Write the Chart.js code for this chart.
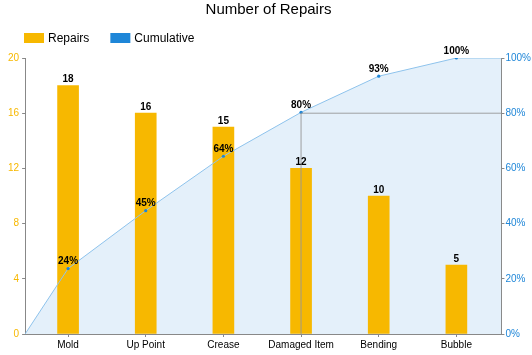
<!DOCTYPE html>
<html>
<head>
<meta charset="utf-8">
<script src="https://cdn.jsdelivr.net/npm/chart.js@4.4.1/dist/chart.umd.min.js"></script>
<style>
html,body{margin:0;padding:0;background:#fff;}
#wrap{width:532px;height:355px;}
</style>
</head>
<body>
<div id="wrap"><canvas id="c" width="532" height="355"></canvas></div>
<script>
const categories = ['Mold', 'Up Point', 'Crease', 'Damaged Item', 'Bending', 'Bubble'];
const repairs = [18, 16, 15, 12, 10, 5];
const cumulativePct = [23.7, 44.7, 64.4, 80.3, 93.4, 100];
const leftTicks = [0, 4, 8, 12, 16, 20];
const rightTicks = [0, 20, 40, 60, 80, 100];
const legendItems = ['Repairs', 'Cumulative'];
const thresholdPct = 80;
const thresholdIndex = 3;

const BAR_COLOR = '#F7B800';
const CUM_COLOR = '#1E86D8';
const X_MIN = -0.553, X_MAX = 5.58;

const cumPoints = [{x: X_MIN, y: 0}]
  .concat(cumulativePct.map((v, i) => ({x: i, y: v})))
  .concat([{x: X_MAX, y: cumulativePct[cumulativePct.length - 1]}]);
const barPoints = repairs.map((v, i) => ({x: i, y: v}));
const thresholdPoints = [
  {x: thresholdIndex, y: 0},
  {x: thresholdIndex, y: thresholdPct},
  {x: X_MAX, y: thresholdPct}
];

const FONT = '"Liberation Sans", Arial, sans-serif';

const labelPlugin = {
  id: 'valueLabels',
  afterDatasetsDraw(chart) {
    const ctx = chart.ctx;
    ctx.save();
    ctx.fillStyle = '#000';
    ctx.font = 'bold 10px ' + FONT;
    ctx.textAlign = 'center';
    ctx.textBaseline = 'bottom';
    const barMeta = chart.getDatasetMeta(1);
    barMeta.data.forEach((el, i) => {
      ctx.fillText(String(repairs[i]), el.x, el.y - 1);
    });
    const lineMeta = chart.getDatasetMeta(0);
    lineMeta.data.forEach((el, i) => {
      if (i === 0 || i === lineMeta.data.length - 1) return;
      ctx.fillText(Math.round(cumulativePct[i - 1]) + '%', el.x, el.y - 2);
    });
    ctx.restore();
  }
};

const legendPlugin = {
  id: 'customLegend',
  afterDraw(chart) {
    const ctx = chart.ctx;
    ctx.save();
    ctx.font = '12px ' + FONT;
    ctx.textBaseline = 'middle';
    ctx.textAlign = 'left';
    const colors = [BAR_COLOR, CUM_COLOR];
    let x = 24;
    const y = 33;
    legendItems.forEach((t, i) => {
      ctx.fillStyle = colors[i];
      ctx.fillRect(x, y, 20, 10);
      ctx.fillStyle = '#000';
      ctx.fillText(t, x + 24, y + 5.5);
      x += 24 + ctx.measureText(t).width + 21;
    });
    ctx.restore();
  }
};

Chart.defaults.font.family = FONT;

new Chart(document.getElementById('c'), {
  data: {
    datasets: [
      {
        type: 'line',
        label: 'Cumulative',
        data: cumPoints,
        xAxisID: 'x',
        yAxisID: 'y1',
        borderColor: '#8EC3EC',
        backgroundColor: CUM_COLOR,
        borderWidth: 1,
        fill: {target: 'origin', above: 'rgba(214,232,248,0.65)'},
        pointRadius: cumPoints.map((p, i) => (i === 0 || i === cumPoints.length - 1) ? 0 : 1.6),
        pointBackgroundColor: CUM_COLOR,
        pointBorderWidth: 0,
        tension: 0,
        order: 1
      },
      {
        type: 'bar',
        label: 'Repairs',
        data: barPoints,
        xAxisID: 'x',
        yAxisID: 'y',
        backgroundColor: BAR_COLOR,
        borderWidth: 0,
        barThickness: 21,
        order: 2
      },
      {
        type: 'line',
        label: 'threshold',
        data: thresholdPoints,
        xAxisID: 'x',
        yAxisID: 'y1',
        borderColor: 'rgba(150,150,150,0.9)',
        borderWidth: 1,
        pointRadius: 0,
        fill: false,
        tension: 0,
        order: 0
      }
    ]
  },
  options: {
    responsive: false,
    animation: false,
    layout: {padding: {left: 5, right: 0, top: 0, bottom: 2}},
    plugins: {
      filler: {drawTime: 'beforeDatasetsDraw'},
      title: {
        display: true,
        text: 'Number of Repairs',
        color: '#000',
        font: {size: 15, weight: 'normal'},
        position: 'top',
        padding: {top: 1, bottom: 39}
      },
      legend: {display: false},
      tooltip: {enabled: false}
    },
    scales: {
      x: {
        type: 'linear',
        min: X_MIN,
        max: X_MAX,
        offset: false,
        afterBuildTicks: (axis) => { axis.ticks = categories.map((c, i) => ({value: i})); },
        ticks: {
          color: '#000',
          font: {size: 10},
          padding: 2,
          autoSkip: false,
          maxRotation: 0,
          callback: (v) => categories[Math.round(v)] || ''
        },
        grid: {display: true, offset: false, drawOnChartArea: false, drawTicks: true, tickLength: 3, color: '#888'},
        border: {display: true, color: '#888'}
      },
      y: {
        position: 'left',
        min: 0,
        max: 20,
        afterBuildTicks: (axis) => { axis.ticks = leftTicks.map(v => ({value: v})); },
        ticks: {color: BAR_COLOR, font: {size: 10}, padding: 3},
        grid: {display: true, drawOnChartArea: false, drawTicks: true, tickLength: 3, color: '#888'},
        border: {display: true, color: '#888'}
      },
      y1: {
        position: 'right',
        min: 0,
        max: 100,
        afterBuildTicks: (axis) => { axis.ticks = rightTicks.map(v => ({value: v})); },
        ticks: {color: CUM_COLOR, font: {size: 10}, padding: 1, callback: (v) => v + '%'},
        grid: {display: true, drawOnChartArea: false, drawTicks: true, tickLength: 3, color: '#888'},
        border: {display: true, color: '#888'}
      }
    }
  },
  plugins: [labelPlugin, legendPlugin]
});
</script>
</body>
</html>
